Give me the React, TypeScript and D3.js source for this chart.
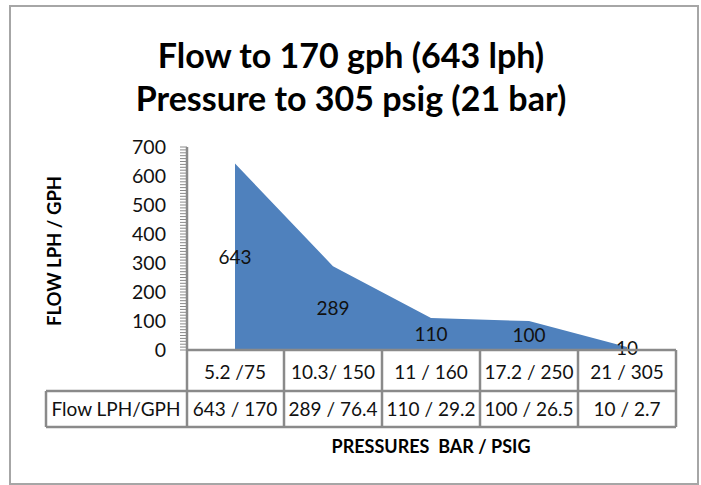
import * as d3 from "d3";

// Chart data
const categories = ["5.2 /75", "10.3/ 150", "11 / 160", "17.2 / 250", "21 / 305"];
const flowLph = [643, 289, 110, 100, 10];
const flowLabels = ["643 / 170", "289 / 76.4", "110 / 29.2", "100 / 26.5", "10 / 2.7"];
const yTicks = [0, 100, 200, 300, 400, 500, 600, 700];
const seriesName = "Flow LPH/GPH";

const width = 701;
const height = 485;
const font = "Lato, 'Open Sans', sans-serif";
const grey = "#8a8a8a";

export default function App() {
  const x = d3.scaleBand<string>().domain(categories).range([186, 676]);
  const y = d3.scaleLinear().domain([0, 700]).range([350, 147]);
  const cx = (c: string) => (x(c) ?? 0) + x.bandwidth() / 2;

  const points = categories.map((c, i) => ({ c, v: flowLph[i] }));
  const area = d3
    .area<{ c: string; v: number }>()
    .x((d) => cx(d.c))
    .y0(y(0))
    .y1((d) => y(d.v));

  // minor ticks every 10 units
  const minor = d3.range(0, 701, 10);

  const rowTop = y(0);
  const row1 = 391;
  const row2 = 427;

  return (
    <svg
      width={width}
      height={height}
      style={{ position: "absolute", left: 0, top: 0, background: "#fff" }}
    >
      <rect x={10} y={6} width={688} height={478} fill="#fff" stroke="#a6a6a6" strokeWidth={2} />

      {/* Title */}
      <g fontFamily={font} fontWeight="bold" fontSize={34} textAnchor="middle" fill="#000">
        <text x={351} y={68}>Flow to 170 gph (643 lph)</text>
        <text x={351} y={111}>Pressure to 305 psig (21 bar)</text>
      </g>

      {/* Area */}
      <path d={area(points) ?? ""} fill="#4f81bd" />

      {/* Y axis ticks */}
      <g stroke={grey} strokeWidth={1}>
        {minor.map((t) => (
          <line key={t} x1={180} x2={187} y1={y(t)} y2={y(t)} />
        ))}
      </g>
      <g fontFamily={font} fontSize={19.5} textAnchor="end" fill="#111">
        {yTicks.map((t) => (
          <text key={t} x={166} y={y(t)} dy="0.36em">
            {t}
          </text>
        ))}
      </g>

      {/* Data labels */}
      <g fontFamily={font} fontSize={19} textAnchor="middle" fill="#111">
        {points.map((d) => (
          <text key={d.c} x={cx(d.c)} y={y(d.v / 2)} dy="0.36em">
            {d.v}
          </text>
        ))}
      </g>

      {/* Data table */}
      <g stroke={grey} strokeWidth={2.5} fill="none">
        <line x1={187} x2={187} y1={y(700)} y2={row2} />
        <line x1={187} x2={676} y1={rowTop} y2={rowTop} />
        <line x1={46} x2={676} y1={row1} y2={row1} />
        <line x1={46} x2={676} y1={row2} y2={row2} />
        <line x1={46} x2={46} y1={row1} y2={row2} />
        {categories.map((c) => (
          <line key={c} x1={(x(c) ?? 0) + x.bandwidth()} x2={(x(c) ?? 0) + x.bandwidth()} y1={rowTop} y2={row2} />
        ))}
      </g>
      <g fontFamily={font} fontSize={19} textAnchor="middle" fill="#111">
        {categories.map((c) => (
          <text key={c} x={cx(c)} y={379}>
            {c}
          </text>
        ))}
        {categories.map((c, i) => (
          <text key={c} x={cx(c)} y={416}>
            {flowLabels[i]}
          </text>
        ))}
        <text x={116} y={416}>
          {seriesName}
        </text>
      </g>

      {/* Axis titles */}
      <text
        x={431}
        y={453}
        fontFamily={font}
        fontWeight="bold"
        fontSize={18}
        textAnchor="middle"
        fill="#000"
        style={{ whiteSpace: "pre" }}
      >
        {"PRESSURES  BAR / PSIG"}
      </text>
      <text
        transform="translate(61,251) rotate(-90)"
        fontFamily={font}
        fontWeight="bold"
        fontSize={18.5}
        textAnchor="middle"
        fill="#000"
      >
        FLOW LPH / GPH
      </text>
    </svg>
  );
}
